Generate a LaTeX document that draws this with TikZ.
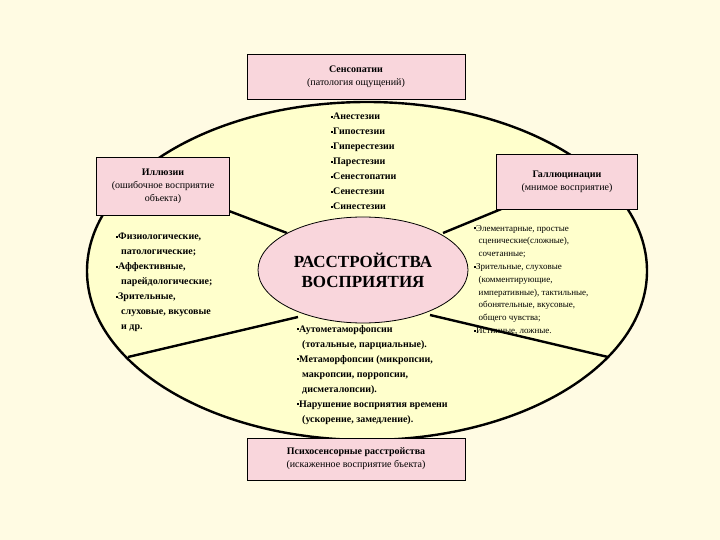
\documentclass[tikz,border=0pt]{standalone}
\usepackage{fontspec}
\setmainfont{Liberation Serif}
\usetikzlibrary{shapes.geometric}
\newcommand{\bul}{\raisebox{0.45ex}{\rule{2pt}{2pt}}}
\begin{document}
\begin{tikzpicture}[x=1pt,y=-1pt,
  box/.style={draw=black,fill=boxpink,align=center,font=\fontsize{10}{13}\selectfont},
  lst/.style={align=left,anchor=north west,font=\bfseries\fontsize{10}{15}\selectfont,inner sep=0},
  ln/.style={line width=2.4pt}]
\definecolor{bg}{HTML}{FFFBE3}
\definecolor{ell}{HTML}{FFFFCC}
\definecolor{boxpink}{HTML}{F9D6DC}
\fill[bg] (0,0) rectangle (720,540);
\useasboundingbox (0,0) rectangle (720,540);
\node[ellipse,draw,ln,fill=ell,minimum width=560,minimum height=338,inner sep=0] (E) at (367,271) {};
\coordinate (a1) at (287,233);
\coordinate (a2) at (443,233);
\coordinate (a3) at (298,317);
\coordinate (a4) at (430,315);
\coordinate (e3) at (128,357);
\coordinate (e4) at (608,357);
\draw[ln] (a1) -- (163,186);
\draw[ln] (a2) -- (567,182);
\draw[ln] (a3) -- (e3);
\draw[ln] (a4) -- (e4);
\node[ellipse,draw,thick,fill=boxpink,minimum width=210,minimum height=106,inner sep=0] (C) at (363,270) {};
\node[font=\bfseries\fontsize{17}{20}\selectfont,align=center] (T) at (C) {РАССТРОЙСТВА\\ВОСПРИЯТИЯ};
\node[box,minimum width=218,minimum height=45] (B1) at (356,77) {\textbf{Сенсопатии}\\(патология ощущений)};
\node[box,minimum width=133,minimum height=58] (B2) at (163,186) {\textbf{Иллюзии}\\(ошибочное восприятие\\объекта)};
\node[box,minimum width=141,minimum height=55] (B3) at (567,182) {\textbf{Галлюцинации}\\(мнимое восприятие)};
\node[box,minimum width=218,minimum height=42] (B4) at (356,459) {\textbf{Психосенсорные расстройства}\\(искаженное восприятие бъекта)};
\node[lst] (L1) at (331,113) {\bul Анестезии\\\bul Гипостезии\\\bul Гиперестезии\\\bul Парестезии\\\bul Сенестопатии\\\bul Сенестезии\\\bul Синестезии};
\node[lst] (L2) at (116,233) {\bul Физиологические,\\\ \ патологические;\\\bul Аффективные,\\\ \ парейдологические;\\\bul Зрительные,\\\ \ слуховые, вкусовые\\\ \ и др.};
\node[lst,font=\fontsize{9}{12.8}\selectfont] (L3) at (474,225) {\bul Элементарные, простые\\\ \ сценические(сложные),\\\ \ сочетанные;\\\bul Зрительные, слуховые\\\ \ (комментирующие,\\\ \ императивные), тактильные,\\\ \ обонятельные, вкусовые,\\\ \ общего чувства;\\\bul Истинные, ложные.};
\node[lst] (L4) at (297,325) {\bul Аутометаморфопсии\\\ \ (тотальные, парциальные).\\\bul Метаморфопсии (микропсии,\\\ \ макропсии, порропсии,\\\ \ дисметалопсии).\\\bul Нарушение восприятия времени\\\ \ (ускорение, замедление).};
\end{tikzpicture}
\end{document}
